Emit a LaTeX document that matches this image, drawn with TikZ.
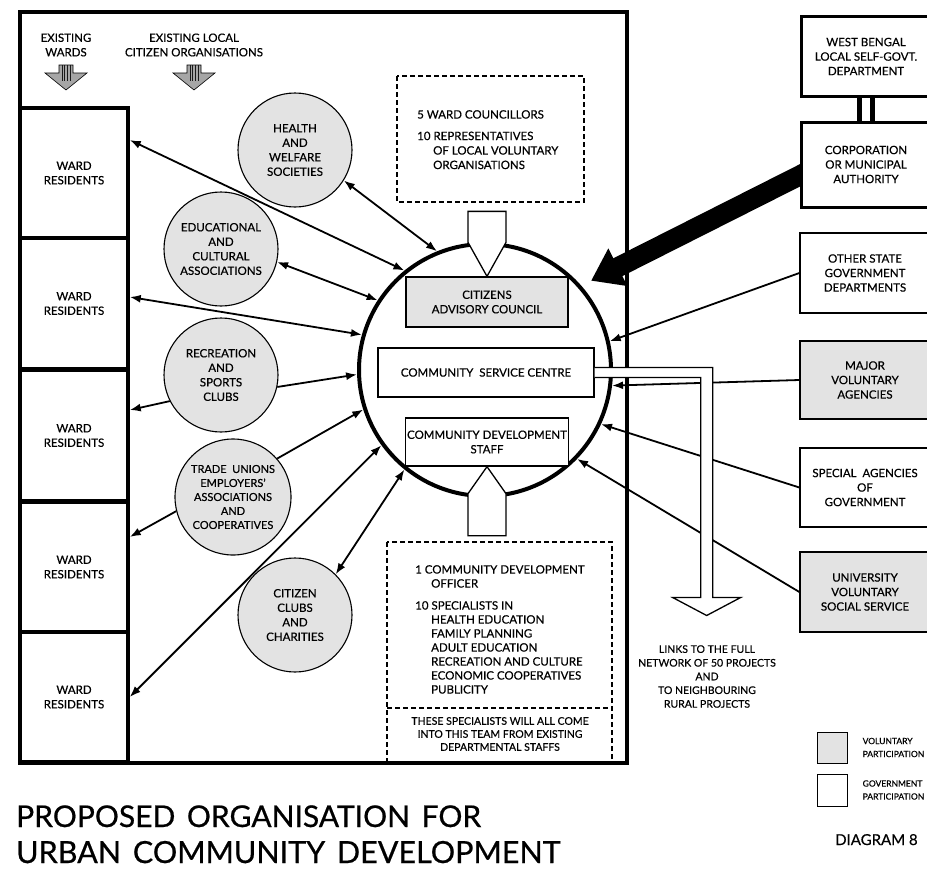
\documentclass[tikz,border=0pt]{standalone}
\usepackage{fontspec}
\setmainfont{Lato}[FakeBold=0.45]
\newfontfamily\titlefont{Lato}[WordSpace=1.5, FakeBold=0.6]
\usetikzlibrary{arrows.meta,backgrounds}
\definecolor{volgray}{gray}{0.89}
\definecolor{pagewhite}{gray}{1}

\begin{document}
\begin{tikzpicture}[x=1pt,y=-1pt,
  every node/.style={font=\fontsize{11.5}{14.5}\selectfont, align=center, inner sep=0pt},
  wardbox/.style={draw, line width=3.5pt, minimum width=108pt, minimum height=130pt},
  orgcircle/.style={circle, draw, line width=1.1pt, fill=volgray, minimum size=114pt},
  agency/.style={draw, line width=1.3pt, fill=white, minimum width=130pt, minimum height=80pt},
  council/.style={agency, line width=3pt},
  volagency/.style={agency, fill=volgray},
  link/.style={line width=1.8pt, -{Latex[length=11pt,width=8pt]}},
  dlink/.style={line width=1.8pt, {Latex[length=11pt,width=8pt]}-{Latex[length=11pt,width=8pt]}},
  innerbox/.style={draw, line width=1.3pt},
  dashbox/.style={draw, line width=1.1pt, dash pattern=on 5pt off 3pt},
  hollow/.style={draw, line width=1.3pt, fill=white, line join=miter},
  listtext/.style={anchor=north west, align=left},
  legendbox/.style={draw, line width=1pt, minimum width=30pt, minimum height=31pt},
  legendtext/.style={anchor=west, align=left, font=\fontsize{8.5}{13}\selectfont},
]
\useasboundingbox (0,0) rectangle (927,876);

% ---------- outer frame and ward column ----------
\draw[line width=4pt] (20,12) rectangle (627,763);
\node[wardbox] (w1) at (74,173)   {WARD\\RESIDENTS};
\node[wardbox] (w2) at (74,303.5) {WARD\\RESIDENTS};
\node[wardbox] (w3) at (74,435.5) {WARD\\RESIDENTS};
\node[wardbox] (w4) at (74,567)   {WARD\\RESIDENTS};
\node[wardbox] (w5) at (74,697)   {WARD\\RESIDENTS};

% ---------- column headings with grey down arrows ----------
\node (hwards) at (66,45) {EXISTING\\WARDS};
\node (horgs) at (194,45) {EXISTING LOCAL\\CITIZEN ORGANISATIONS};
\foreach \cx in {66,194} {
  \filldraw[fill=gray!70, line width=0.6pt, line join=miter]
    (\cx-7,65) -- (\cx+7,65) -- (\cx+7,73) -- (\cx+21,73) -- (\cx,90)
    -- (\cx-21,73) -- (\cx-7,73) -- cycle;
  \foreach \sx in {-4,-1.5,1.5,4}
    \draw[line width=0.5pt, gray!20!black] (\cx+\sx,65) -- (\cx+\sx,81);
}

% ---------- membership boxes ----------
\draw[dashbox] (397,76) rectangle (584,202);
\node[listtext] (members) at (417,110)
  {5 WARD COUNCILLORS\\[7pt]10 REPRESENTATIVES\\\hspace*{16pt}OF LOCAL VOLUNTARY\\\hspace*{16pt}ORGANISATIONS};

\draw[dashbox] (387,542) rectangle (612,762);
\draw[dashbox] (387,708) -- (612,708);
\node[listtext, font=\fontsize{11.5}{14}\selectfont] (staff) at (415,565)
  {1 COMMUNITY DEVELOPMENT\\\hspace*{16pt}OFFICER\\[8pt]10 SPECIALISTS IN\\
   \hspace*{16pt}HEALTH EDUCATION\\\hspace*{16pt}FAMILY PLANNING\\
   \hspace*{16pt}ADULT EDUCATION\\\hspace*{16pt}RECREATION AND CULTURE\\
   \hspace*{16pt}ECONOMIC COOPERATIVES\\\hspace*{16pt}PUBLICITY};
\node[font=\fontsize{10.5}{13}\selectfont] (staffnote) at (500,734)
  {THESE SPECIALISTS WILL ALL COME\\INTO THIS TEAM FROM EXISTING\\DEPARTMENTAL STAFFS};

% ---------- government and voluntary agencies ----------
\node[council] (wb) at (866,56.5) {WEST BENGAL\\LOCAL SELF-GOVT.\\DEPARTMENT};
\node[council, minimum height=85pt] (corp) at (866,164.5) {CORPORATION\\OR MUNICIPAL\\AUTHORITY};
\draw[line width=5pt] ([xshift=-6.5pt]wb.south) -- ([xshift=-6.5pt]corp.north);
\draw[line width=5pt] ([xshift=6.5pt]wb.south) -- ([xshift=6.5pt]corp.north);
\node[agency] (other) at (865,273) {OTHER STATE\\GOVERNMENT\\DEPARTMENTS};
\node[volagency, minimum height=78pt] (major) at (865,380) {MAJOR\\VOLUNTARY\\AGENCIES};
\node[agency, minimum height=79pt] (special) at (865,487.5) {SPECIAL\ \ AGENCIES\\OF\\GOVERNMENT};
\node[volagency] (univ) at (865,592) {UNIVERSITY\\VOLUNTARY\\SOCIAL SERVICE};

% ---------- the community centre ring ----------
\node[circle, draw, line width=4pt, minimum size=252pt] (cc) at (485,370) {};

\draw[link] (other.west) -- (cc.13.7);
\draw[link] (major.west) -- (cc.-7.3);
\draw[link] (special.west) -- (cc.-25);
\draw[link] (univ.west) -- (cc.-44.4);

\node[innerbox, fill=volgray, minimum width=162pt, minimum height=50pt] (cac) at (487,302)
  {CITIZENS\\ADVISORY COUNCIL};
\node[innerbox, fill=white, minimum width=216pt, minimum height=49pt] (csc) at (486,372.5)
  {COMMUNITY\ \ SERVICE CENTRE};
\node[innerbox, fill=white, minimum width=163pt, minimum height=48pt] (cds) at (487,442)
  {COMMUNITY DEVELOPMENT\\STAFF};

% open arrows feeding the council and the staff
\filldraw[hollow] (cac.north) -- ++(-19,-34) -- ++(0,-31) -- ++(38,0) -- ++(0,31) -- cycle;
\filldraw[hollow] (cds.south) -- ++(-19,27) -- ++(0,42) -- ++(38,0) -- ++(0,-42) -- cycle;

% outgoing link channel
\filldraw[hollow] ([yshift=5pt]csc.east) -- ++(118,0) -- ++(0,230) -- ++(28,0)
  -- ++(-34,18) -- ++(-34,-18) -- ++(28,0) -- ++(0,-220) -- ++(-106,0);
\node[font=\fontsize{10.5}{13.7}\selectfont] (links) at (707,676.5)
  {LINKS TO THE FULL\\NETWORK OF 50 PROJECTS\\AND\\TO NEIGHBOURING\\RURAL PROJECTS};

% ---------- local organisations ----------
\node[orgcircle] (health) at (295,150) {HEALTH\\AND\\WELFARE\\SOCIETIES};
\node[orgcircle] (edu) at (221,249) {EDUCATIONAL\\AND\\CULTURAL\\ASSOCIATIONS};
\node[orgcircle] (rec) at (221,375) {RECREATION\\AND\\SPORTS\\CLUBS};
\node[orgcircle, minimum size=116pt, font=\fontsize{11}{14}\selectfont] (trade) at (233,497)
  {TRADE\ \ UNIONS\\EMPLOYERS'\\ASSOCIATIONS\\AND\\COOPERATIVES};
\node[orgcircle] (club) at (295,615) {CITIZEN\\CLUBS\\AND\\CHARITIES};

\draw[dlink] ([yshift=33pt]w1.east) -- (cc.129.5);
\draw[dlink] (health.-32.5) -- (cc.112);
\draw[dlink] (edu.-13) -- (cc.147.5);
\draw[dlink] ([yshift=6.5pt]w2.east) -- (cc.164);
\draw[link] (rec.-12) -- (cc.182);
\draw[link] (rec.207.8) -- ([yshift=25.5pt]w3.east);
\draw[link] (trade.41.6) -- (cc.198);
\draw[link] (trade.194) -- ([yshift=30pt]w4.east);
\draw[dlink] (w5.east) -- (cc.216.6);
\draw[dlink] (club.45.7) -- (cc.231.5);

% heavy arrow of municipal authority, kept beneath the boxes
\begin{scope}[on background layer]
  \fill[pagewhite] (0,0) rectangle (927,876);
  \draw[line width=20pt, -{Triangle[length=30pt,width=40pt]}]
    ([xshift=12pt,yshift=-5pt]corp.west) -- ([shift={(8,-7)}]cc.40.6);
\end{scope}

% ---------- legend ----------
\node[legendbox, fill=volgray] (lvol) at (832,747.5) {};
\node[legendbox, fill=white, minimum height=32pt] (lgov) at (832,790) {};
\node[legendtext] (lvoltext) at ([xshift=15pt]lvol.east) {VOLUNTARY\\PARTICIPATION};
\node[legendtext] (lgovtext) at ([xshift=15pt]lgov.east) {GOVERNMENT\\PARTICIPATION};

% ---------- title ----------
\node[anchor=base west, font=\titlefont\fontsize{30}{36}\selectfont] (title1) at (16,827) {PROPOSED ORGANISATION FOR};
\node[anchor=base west, font=\titlefont\fontsize{30.5}{36}\selectfont] (title2) at (16,863) {URBAN COMMUNITY DEVELOPMENT};
\node[anchor=base west, font=\fontsize{15}{18}\selectfont] (diag) at (835,845) {DIAGRAM 8};
\end{tikzpicture}
\end{document}
